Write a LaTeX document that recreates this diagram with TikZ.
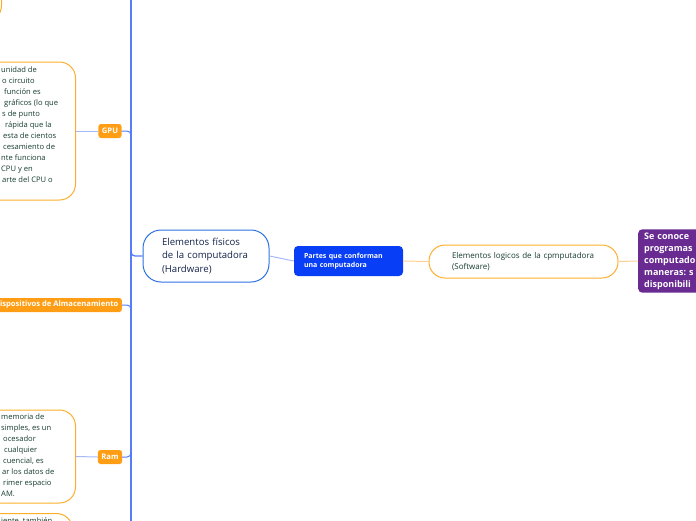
\documentclass[tikz,border=0pt]{standalone}
\usepackage{fontspec}
\setmainfont{Open Sans}
\frenchspacing
\definecolor{spine}{RGB}{85,125,250}
\definecolor{lightblue}{RGB}{165,185,250}
\definecolor{hardborder}{RGB}{45,115,225}
\definecolor{navytext}{RGB}{20,35,75}
\definecolor{partsblue}{RGB}{8,62,245}
\definecolor{orangefill}{RGB}{255,158,20}
\definecolor{orangeline}{RGB}{252,175,45}
\definecolor{lightorange}{RGB}{255,208,150}
\definecolor{greentext}{RGB}{22,60,45}
\definecolor{purplebox}{RGB}{105,42,145}
\tikzset{
  branch/.style={draw=lightblue, line width=1pt},
  tag/.style={fill=orangefill, text=white, font=\bfseries\fontsize{7.6}{8}\selectfont,
    rounded corners=2.5pt, inner xsep=3.5pt, minimum height=14pt, inner ysep=0pt},
  notebox/.style={draw=orangeline, fill=white, line width=1pt, rounded corners=16pt},
  notetext/.style={text=greentext, font=\fontsize{7.6}{11}\selectfont, align=left,
    inner sep=0pt, anchor=north west}
}
\begin{document}
\begin{tikzpicture}[x=1pt,y=-1pt]
      \useasboundingbox (0,0) rectangle (696,520);
      \clip (0,0) rectangle (696,520);

      % Eje vertical
      \coordinate (spinetop) at (131,-20);
      \coordinate (spinebot) at (131,540);
      \draw[spine, line width=1.3pt] (spinetop) -- (spinebot);

      % Nodo central
      \node[draw=hardborder, fill=white, line width=1pt, rounded corners=18pt,
        minimum width=126pt, minimum height=52pt, text width=88pt, align=left,
        text=navytext, font=\fontsize{9.6}{13.5}\selectfont] (hard) at (206,256)
        {Elementos físicos de la computadora (Hardware)};
      \draw[spine, line width=1.3pt, rounded corners=4pt] (hard.west) -| (spinetop);

      % Partes
      \node[fill=partsblue, rounded corners=4pt, minimum width=109pt, minimum height=30pt,
        text width=89pt, align=left, text=white,
        font=\bfseries\fontsize{7}{9}\selectfont] (parts) at (348.5,261)
        {Partes que conforman una computadora};
      \draw[branch] (hard.east) -- (parts.west);

      % Software
      \node[draw=orangeline, fill=white, line width=1pt, rounded corners=16pt,
        minimum width=189pt, minimum height=33pt, text width=143pt, align=left,
        text=greentext, font=\fontsize{8}{11}\selectfont] (soft) at (523.5,261.5)
        {Elementos logicos de la cpmputadora (Software)};
      \draw[draw=lightorange, line width=1pt] (parts.east) -- (soft.west);

      % Caja morada
      \node[fill=purplebox, rounded corners=4pt, minimum height=60pt, text width=100pt,
        align=left, anchor=west, inner xsep=6pt, text=white,
        font=\bfseries\fontsize{9}{12}\selectfont] (known) at (638,261)
        {Se conoce\\programas\\computado\\maneras: s\\disponibili};
      \draw[draw=lightorange, line width=1pt] (soft.east) -- (known.west);

      % Caja de arriba
      \node[notebox, minimum width=120pt, minimum height=80pt, anchor=south east] (topbox) at (2,22) {};

      % GPU
      \node[tag] (gpu) at (110,131) {GPU};
      \draw[branch, draw=spine, rounded corners=4pt] (gpu.east) -| (spinebot);
      \node[notebox, minimum width=150pt, minimum height=138pt, anchor=east] (gpubox) at (76,131) {};
      \draw[branch] (gpu.west) -- (gpubox.east);
      \node[notetext] (gputext) at (0,66.5) {%
        \hspace*{1pt}unidad de\\ \hspace*{2pt}o circuito\\ \hspace*{4pt}función es\\
        \hspace*{4pt}gráficos (lo que\\ \hspace*{2pt}s de punto\\ \hspace*{5pt}rápida que la\\
        \hspace*{3pt}esta de cientos\\ \hspace*{3pt}cesamiento de\\ \hspace*{1pt}nte funciona\\
        \hspace*{1pt}CPU y en\\ \hspace*{2pt}arte del CPU o};

      % Almacenamiento
      \node[tag, anchor=east] (storage) at (122,305) {Dispositivos de Almacenamiento};
      \draw[branch, draw=spine, rounded corners=4pt] (storage.east) -| (spinebot);

      % Ram
      \node[tag] (ram) at (110,457) {Ram};
      \draw[branch, draw=spine, rounded corners=4pt] (ram.east) -| (spinetop);
      \node[notebox, minimum width=150pt, minimum height=93pt, anchor=east] (rambox) at (76,456.5) {};
      \draw[branch] (ram.west) -- (rambox.east);
      \node[notetext] (ramtext) at (0,414) {%
        \hspace*{1pt}memoria de\\ \hspace*{1pt}simples, es un\\ \hspace*{3pt}ocesador\\
        \hspace*{4pt}cualquier\\ \hspace*{3pt}cuencial, es\\ \hspace*{2pt}ar los datos de\\
        \hspace*{3pt}rimer espacio\\ \hspace*{1pt}AM.};

      % Caja de abajo
      \node[notebox, minimum width=150pt, minimum height=80pt, anchor=north east] (lowbox) at (73,513) {};
      \node[notetext] (lowtext) at (1,517) {iente, también};
\end{tikzpicture}
\end{document}
